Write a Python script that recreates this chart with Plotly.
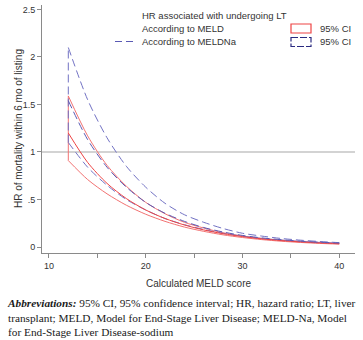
import plotly.graph_objects as go

# MELD score grid
meld = [12, 14, 16, 18, 20, 22, 24, 26, 28, 30, 32, 34, 36, 38, 40]

# HR according to MELD (estimate and 95% CI)
hr_meld = [1.20, 0.89, 0.67, 0.51, 0.39, 0.30, 0.232, 0.18, 0.14, 0.11, 0.086, 0.068, 0.054, 0.043, 0.035]
hr_meld_lo = [0.91, 0.71, 0.56, 0.44, 0.345, 0.27, 0.21, 0.165, 0.128, 0.10, 0.078, 0.061, 0.048, 0.038, 0.03]
hr_meld_hi = [1.59, 1.17, 0.86, 0.64, 0.47, 0.35, 0.26, 0.20, 0.15, 0.115, 0.09, 0.072, 0.058, 0.047, 0.038]

# HR according to MELDNa (estimate and 95% CI)
hr_na = [1.54, 1.13, 0.84, 0.63, 0.47, 0.355, 0.27, 0.205, 0.158, 0.122, 0.096, 0.077, 0.062, 0.05, 0.042]
hr_na_lo = [1.10, 0.84, 0.65, 0.50, 0.39, 0.30, 0.235, 0.185, 0.145, 0.115, 0.09, 0.073, 0.059, 0.048, 0.04]
hr_na_hi = [2.10, 1.55, 1.15, 0.85, 0.63, 0.46, 0.34, 0.26, 0.195, 0.145, 0.115, 0.09, 0.072, 0.058, 0.046]

x_ticks = [10, 15, 20, 25, 30, 35, 40]
x_ticklabels = ["10", "", "20", "", "30", "", "40"]
y_ticks = [0, 0.5, 1, 1.5, 2, 2.5]
y_ticklabels = ["0", ".5", "1", "1.5", "2", "2.5"]

RED = "#ee4444"
RED_CI = "#f27272"
BLUE = "#5a5ab4"
BLUE_CI = "#7272c4"
DASH = "8px,4px"

fig = go.Figure()


def curve(x, y, color, dash=None):
    fig.add_trace(go.Scatter(x=x, y=y, mode="lines",
                             line=dict(color=color, width=1, dash=dash, shape="spline", smoothing=0.8),
                             showlegend=False, hoverinfo="skip"))


def edge(x, y0, y1, color, dash=None):
    fig.add_trace(go.Scatter(x=[x, x], y=[y0, y1], mode="lines",
                             line=dict(color=color, width=1, dash=dash),
                             showlegend=False, hoverinfo="skip"))


# MELD CI outline
curve(meld, hr_meld_lo, RED_CI)
curve(meld, hr_meld_hi, RED_CI)
edge(meld[0], hr_meld_lo[0], hr_meld_hi[0], RED_CI)
edge(meld[-1], hr_meld_lo[-1], hr_meld_hi[-1], RED_CI)
# MELDNa CI outline
curve(meld, hr_na_lo, BLUE_CI, DASH)
curve(meld, hr_na_hi, BLUE_CI, DASH)
edge(meld[0], hr_na_lo[0], hr_na_hi[0], BLUE_CI, DASH)
edge(meld[-1], hr_na_lo[-1], hr_na_hi[-1], BLUE_CI, DASH)
# Estimates
curve(meld, hr_meld, RED)
curve(meld, hr_na, BLUE, DASH)

fig.add_hline(y=1, line=dict(color="#c4c4c4", width=1.6), layer="below")

W, H = 363, 340
L, R, T, B = 42, 8, 5, 87
pw, ph = W - L - R, H - T - B


def px(xp):
    return (xp - L) / pw


def py(yp):
    return (H - B - yp) / ph


txt = dict(family="Liberation Sans, Arial", size=9.5, color="#333333")
ann = []
ann.append(dict(x=px(140), y=py(16), xref="paper", yref="paper", xanchor="left", yanchor="middle",
                text="HR associated with undergoing LT", showarrow=False, font=txt))
ann.append(dict(x=px(140), y=py(28.5), xref="paper", yref="paper", xanchor="left", yanchor="middle",
                text="According to MELD", showarrow=False, font=txt))
ann.append(dict(x=px(140), y=py(41.5), xref="paper", yref="paper", xanchor="left", yanchor="middle",
                text="According to MELDNa", showarrow=False, font=txt))
ann.append(dict(x=px(318), y=py(28.5), xref="paper", yref="paper", xanchor="left", yanchor="middle",
                text="95% CI", showarrow=False, font=txt))
ann.append(dict(x=px(318), y=py(41.5), xref="paper", yref="paper", xanchor="left", yanchor="middle",
                text="95% CI", showarrow=False, font=txt))
ann.append(dict(x=px(198), y=py(283), xref="paper", yref="paper", xanchor="center", yanchor="middle",
                text="Calculated MELD score", showarrow=False,
                font=dict(family="Liberation Sans, Arial", size=10, color="#333333")))
ann.append(dict(x=px(18), y=py(129), xref="paper", yref="paper", xanchor="center", yanchor="middle",
                text="HR of mortality within 6 mo of listing", textangle=-90, showarrow=False,
                font=dict(family="Liberation Sans, Arial", size=10, color="#333333")))
caption = ("<b><i>Abbreviations:</i></b> 95% CI, 95% confidence interval; HR, hazard ratio; LT, liver<br>"
           "transplant; MELD, Model for End-Stage Liver Disease; MELD-Na, Model<br>"
           "for End-Stage Liver Disease-sodium")
ann.append(dict(x=px(5), y=py(295), xref="paper", yref="paper", xanchor="left", yanchor="top",
                align="left", text=caption, showarrow=False,
                font=dict(family="Liberation Serif, serif", size=11.3, color="#1a1a1a")))

shapes = [
    dict(type="line", xref="paper", yref="paper", x0=px(115), x1=px(135), y0=py(28.5), y1=py(28.5),
         line=dict(color=RED, width=1.2)),
    dict(type="line", xref="paper", yref="paper", x0=px(115), x1=px(135), y0=py(41.5), y1=py(41.5),
         line=dict(color=BLUE, width=1.2, dash="7px,4px")),
    dict(type="rect", xref="paper", yref="paper", x0=px(291), x1=px(311), y0=py(24), y1=py(33),
         line=dict(color=RED, width=1.2)),
    dict(type="rect", xref="paper", yref="paper", x0=px(291), x1=px(311), y0=py(37.5), y1=py(46.5),
         line=dict(color="#2a2a80", width=1.2, dash="7px,2px")),
]

fig.update_layout(
    width=W, height=H,
    margin=dict(l=L, r=R, t=T, b=B, pad=0),
    paper_bgcolor="white", plot_bgcolor="white",
    showlegend=False,
    annotations=ann, shapes=shapes,
    xaxis=dict(range=[9.28, 41.64], tickvals=x_ticks, ticktext=x_ticklabels,
               showgrid=False, zeroline=False, showline=True, linecolor="#8a8a8a", linewidth=1,
               ticks="outside", ticklen=4, tickcolor="#8a8a8a",
               tickfont=dict(family="Liberation Sans, Arial", size=9, color="#333333")),
    yaxis=dict(range=[-0.063, 2.547], tickvals=y_ticks, ticktext=y_ticklabels,
               showgrid=False, zeroline=False, showline=True, linecolor="#8a8a8a", linewidth=1,
               ticks="outside", ticklen=4, tickcolor="#8a8a8a",
               tickfont=dict(family="Liberation Sans, Arial", size=9, color="#333333")),
)

fig.write_html("out.html")
